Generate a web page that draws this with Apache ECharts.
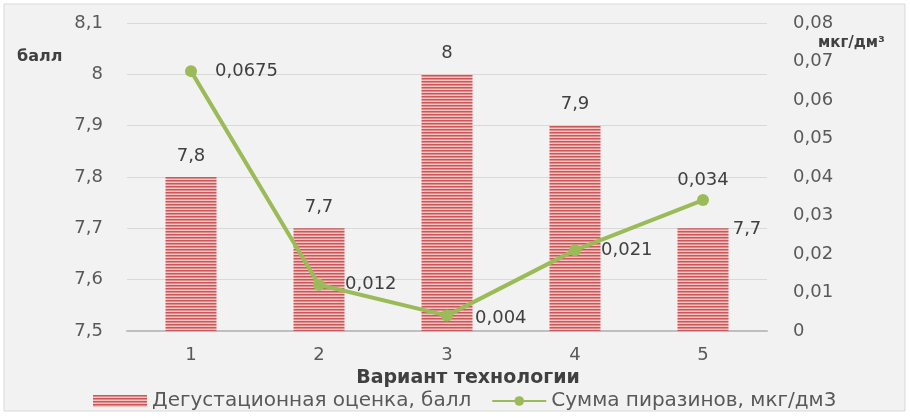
<!DOCTYPE html>
<html>
<head>
<meta charset="utf-8">
<script src="https://cdn.jsdelivr.net/npm/echarts@6/dist/echarts.min.js"></script>
<style>
  html, body { margin: 0; padding: 0; background: #ffffff; }
  #chart { width: 910px; height: 418px; }
</style>
</head>
<body>
<div id="chart"></div>
<script>
const categories = ['1', '2', '3', '4', '5']
const scoreValues = [7.8, 7.7, 8, 7.9, 7.7]
const pyrazineValues = [0.0675, 0.012, 0.004, 0.021, 0.034]
const scoreName = 'Дегустационная оценка, балл'
const pyrazineName = 'Сумма пиразинов, мкг/дм3'

// horizontal stripe fill like the excel pattern
function stripes() {
  const c = document.createElement('canvas')
  c.width = 4
  c.height = 3
  const ctx = c.getContext('2d')
  ctx.fillStyle = '#f4c4c2'
  ctx.fillRect(0, 0, 4, 3)
  ctx.fillStyle = '#c9575a'
  ctx.fillRect(0, 0, 4, 1)
  ctx.fillStyle = '#e08c8c'
  ctx.fillRect(0, 1, 4, 1)
  return c
}

const comma = v => String(v).replace('.', ',')
const font = '"DejaVu Sans", sans-serif'

const myChart = echarts.init(document.getElementById('chart'))
const option = {
  backgroundColor: '#ffffff',
  textStyle: { fontFamily: font },
  graphic: [
    {
      type: 'rect',
      shape: { x: 4, y: 4, width: 901, height: 407 },
      style: { fill: '#f2f2f2', stroke: '#d9d9d9', lineWidth: 1 },
      z: -10
    }
  ],
  grid: { left: 127, right: 143, top: 23, bottom: 87 },
  legend: {
    bottom: 2,
    left: 88,
    itemGap: 20,
    itemWidth: 54,
    itemHeight: 12,
    textStyle: { fontSize: 20, color: '#595959', fontFamily: font },
    data: [
      { name: scoreName, icon: 'rect' },
      { name: pyrazineName }
    ]
  },
  xAxis: {
    type: 'category',
    data: categories,
    name: 'Вариант технологии',
    nameLocation: 'middle',
    nameGap: 38,
    nameTextStyle: { fontSize: 19, fontWeight: 'bold', color: '#404040', padding: [0, 0, 0, 42] },
    axisLine: { lineStyle: { color: '#bfbfbf', width: 2 } },
    axisTick: { show: false },
    axisLabel: { fontSize: 18, color: '#595959', margin: 15 }
  },
  yAxis: [
    {
      type: 'value',
      min: 7.5,
      max: 8.1,
      interval: 0.1,
      name: 'балл',
      nameLocation: 'end',
      nameGap: 0,
      nameTextStyle: { fontSize: 16, fontWeight: 'bold', color: '#404040', align: 'left', padding: [0, 0, -42, -110] },
      axisLine: { show: false },
      axisTick: { show: false },
      axisLabel: {
        fontSize: 18, color: '#595959', margin: 24,
        formatter: v => comma(Math.round(v * 10) / 10)
      },
      splitLine: { lineStyle: { color: '#d9d9d9', width: 1 } }
    },
    {
      type: 'value',
      min: 0,
      max: 0.08,
      interval: 0.01,
      name: 'мкг/дм³',
      nameLocation: 'end',
      nameGap: 0,
      nameTextStyle: { fontSize: 15, fontWeight: 'bold', color: '#404040', align: 'left', padding: [0, 0, -28, 51] },
      axisLine: { show: false },
      axisTick: { show: false },
      axisLabel: {
        fontSize: 18, color: '#595959', margin: 26,
        formatter: v => v === 0 ? '0' : comma((Math.round(v * 100) / 100).toFixed(2))
      },
      splitLine: { show: false }
    }
  ],
  series: [
    {
      name: scoreName,
      type: 'bar',
      yAxisIndex: 0,
      barWidth: 51,
      itemStyle: { color: { image: stripes(), repeat: 'repeat' } },
      label: { show: true, position: 'top', distance: 12, fontSize: 18, color: '#404040', formatter: p => comma(p.value) },
      data: scoreValues.map((v, i) => i === 4
        ? { value: v, label: { position: 'top', distance: 12, offset: [44, 22] } }
        : v),
      z: 1
    },
    {
      name: pyrazineName,
      type: 'line',
      yAxisIndex: 1,
      symbol: 'circle',
      symbolSize: 12,
      lineStyle: { color: '#9bbb59', width: 4 },
      itemStyle: { color: '#9bbb59' },
      label: { show: true, fontSize: 18, color: '#404040', formatter: p => comma(p.value) },
      data: pyrazineValues.map((v, i) => {
        const pos = [
          { position: 'right', distance: 18 },
          { position: 'right', distance: 20 },
          { position: 'right', distance: 22, offset: [0, 3] },
          { position: 'right', distance: 20 },
          { position: 'top', distance: 5 }
        ][i]
        return { value: v, label: pos }
      }),
      z: 5
    }
  ]
}
myChart.setOption(option)
</script>
</body>
</html>
